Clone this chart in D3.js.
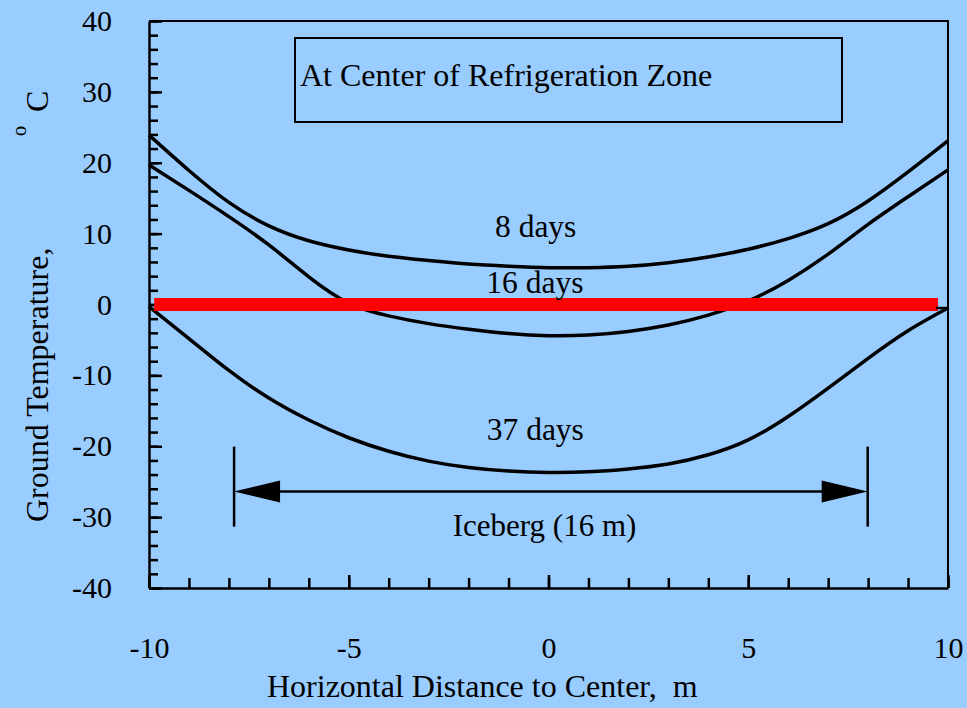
<!DOCTYPE html>
<html>
<head>
<meta charset="utf-8">
<script src="https://cdn.jsdelivr.net/npm/d3@7"></script>
<style>
  html, body { margin: 0; padding: 0; background: #99ccff; }
  svg { display: block; }
  text { font-family: "Liberation Serif", "Times New Roman", Times, serif; fill: #000; white-space: pre; }
</style>
</head>
<body>
<svg id="chart" width="967" height="708"></svg>
<script>
// Horizontal distance from the refrigeration-zone centre (m)
const distance = [-10, -9, -8, -7, -6, -5, -4, -3, -2, -1, 0, 1, 2, 3, 4, 5, 6, 7, 8, 9, 10];

// Ground temperature (°C) after each freezing period
const temp8days  = [23.9, 18.9, 14.4, 11.1, 9.0, 7.7, 6.8, 6.2, 5.7, 5.4, 5.2, 5.2, 5.4, 5.9, 6.7, 7.8, 9.3, 11.4, 14.6, 18.7, 23.1];
const temp16days = [19.7, 16.1, 12.4, 8.4, 3.9, 0.2, -1.6, -2.7, -3.5, -4.1, -4.4, -4.3, -3.8, -2.9, -1.5, 0.5, 3.4, 7.1, 11.3, 15.2, 19.0];
const temp37days = [-0.3, -4.8, -9.3, -13.2, -16.3, -18.8, -20.7, -22.1, -23.0, -23.5, -23.7, -23.6, -23.2, -22.5, -21.2, -19.1, -15.8, -11.8, -7.6, -3.7, -0.5];

const seriesNames  = ["8 days", "16 days", "37 days"];
const seriesValues = [temp8days, temp16days, temp37days];
// where each curve's name is written: [distance, temperature]
const seriesLabelAt = [[-0.32, 9.5], [-0.34, 1.62], [-0.33, -19.1]];

// Axis ticks
const xMajorTicks = [-10, -5, 0, 5, 10];
const xMinorTicks = d3.range(-10, 10.5, 1);
const yMajorTicks = [40, 30, 20, 10, 0, -10, -20, -30, -40];
const yMinorTicks = d3.range(-40, 41, 2);

// Freezing line and iceberg extent
const freezeLine = { from: -9.87, to: 9.75, value: 0 };
const iceberg = { from: -7.87, to: 7.99, level: -26.4, label: "Iceberg (16 m)", labelAt: [-0.1, -32.6] };

const titleText = "At Center of Refrigeration Zone";
const xTitle = "Horizontal Distance to Center,  m";
const yTitle = "Ground Temperature,";

const svg = d3.select("#chart");
const margin = { left: 149, right: 19, top: 21, bottom: 120 };
const W = 967, H = 708;

const x = d3.scaleLinear().domain([-10, 10]).range([margin.left, W - margin.right]);
const y = d3.scaleLinear().domain([-40, 40]).range([H - margin.bottom, margin.top]);
const plain = d => String(d);

// frame: top and right edges
svg.append("path")
  .attr("d", `M${x(-10)},${y(40)}H${x(10)}V${y(-40)}`)
  .attr("fill", "none").attr("stroke", "#000").attr("stroke-width", 2);

// minor ticks
svg.append("g").attr("transform", `translate(${x(-10)},0)`)
  .call(d3.axisLeft(y).tickValues(yMinorTicks).tickSize(-9).tickSizeOuter(0).tickFormat(""))
  .call(g => g.select(".domain").remove())
  .call(g => g.selectAll("line").attr("stroke-width", 2.5));
svg.append("g").attr("transform", `translate(0,${y(-40)})`)
  .call(d3.axisBottom(x).tickValues(xMinorTicks).tickSize(-10).tickSizeOuter(0).tickFormat(""))
  .call(g => g.select(".domain").remove())
  .call(g => g.selectAll("line").attr("stroke-width", 2.5));

// major ticks with labels
svg.append("g").attr("transform", `translate(${x(-10)},0)`)
  .call(d3.axisLeft(y).tickValues(yMajorTicks).tickSize(-13).tickSizeOuter(0).tickPadding(37).tickFormat(plain))
  .call(g => g.select(".domain").attr("stroke-width", 2.5))
  .call(g => g.selectAll("line").attr("stroke-width", 2.5))
  .call(g => g.selectAll("text").attr("font-size", 30).attr("font-family", null));
svg.append("g").attr("transform", `translate(0,${y(-40)})`)
  .call(d3.axisBottom(x).tickValues(xMajorTicks).tickSize(-13).tickSizeOuter(0).tickPadding(49).tickFormat(plain))
  .call(g => g.select(".domain").attr("stroke-width", 2.5))
  .call(g => g.selectAll("line").attr("stroke-width", 2.5))
  .call(g => g.selectAll("text").attr("font-size", 30).attr("font-family", null));

// axis titles
svg.append("text").attr("x", 267).attr("y", 697)
  .attr("font-size", 32).text(xTitle);
svg.append("text")
  .attr("transform", "translate(48,522) rotate(-90)")
  .attr("font-size", 32).text(yTitle);
svg.append("text")
  .attr("transform", "translate(26,131) rotate(-90)")
  .attr("text-anchor", "middle").attr("font-size", 21).text("o");
svg.append("text")
  .attr("transform", "translate(48,112) rotate(-90)")
  .attr("font-size", 32).text("C");

// title box
svg.append("rect").attr("x", 295).attr("y", 38).attr("width", 547).attr("height", 84)
  .attr("fill", "none").attr("stroke", "#000").attr("stroke-width", 2);
svg.append("text").attr("x", 300).attr("y", 86).attr("font-size", 32).text(titleText);

// temperature profiles
const line = d3.line()
  .x((d, i) => x(distance[i]))
  .y(d => y(d))
  .curve(d3.curveNatural);

svg.append("g").selectAll("path").data(seriesValues).join("path")
  .attr("d", line)
  .attr("fill", "none").attr("stroke", "#000").attr("stroke-width", 3.5)
  .attr("stroke-linejoin", "round");

// freezing line
svg.append("line")
  .attr("x1", x(freezeLine.from)).attr("x2", x(freezeLine.to))
  .attr("y1", y(freezeLine.value)).attr("y2", y(freezeLine.value))
  .attr("stroke", "#ff0000").attr("stroke-width", 13);

// short marker on the right edge where the 37-day profile ends
const end37 = temp37days[temp37days.length - 1];
svg.append("line")
  .attr("x1", x(10) - 12).attr("x2", x(10))
  .attr("y1", y(end37)).attr("y2", y(end37))
  .attr("stroke", "#000").attr("stroke-width", 2.5);

// curve labels
svg.append("g").selectAll("text").data(seriesNames).join("text")
  .attr("x", (d, i) => x(seriesLabelAt[i][0]))
  .attr("y", (d, i) => y(seriesLabelAt[i][1]))
  .attr("text-anchor", "middle").attr("font-size", 31.5)
  .text(d => d);

// iceberg extent: end bars, dimension line and arrowheads
const ib = svg.append("g");
const yIce = y(iceberg.level);
[iceberg.from, iceberg.to].forEach(v => {
  ib.append("line").attr("x1", x(v)).attr("x2", x(v)).attr("y1", yIce - 45).attr("y2", yIce + 35)
    .attr("stroke", "#000").attr("stroke-width", 2.5);
});
ib.append("line").attr("x1", x(iceberg.from) + 20).attr("x2", x(iceberg.to) - 20)
  .attr("y1", yIce).attr("y2", yIce).attr("stroke", "#000").attr("stroke-width", 2.5);
const headLen = 46, headHalf = 11;
ib.append("path")
  .attr("d", `M${x(iceberg.from)},${yIce}L${x(iceberg.from) + headLen},${yIce - headHalf}L${x(iceberg.from) + headLen},${yIce + headHalf}Z`)
  .attr("fill", "#000");
ib.append("path")
  .attr("d", `M${x(iceberg.to)},${yIce}L${x(iceberg.to) - headLen},${yIce - headHalf}L${x(iceberg.to) - headLen},${yIce + headHalf}Z`)
  .attr("fill", "#000");
ib.append("text")
  .attr("x", x(iceberg.labelAt[0])).attr("y", y(iceberg.labelAt[1]))
  .attr("text-anchor", "middle").attr("font-size", 31).text(iceberg.label);
</script>
</body>
</html>
